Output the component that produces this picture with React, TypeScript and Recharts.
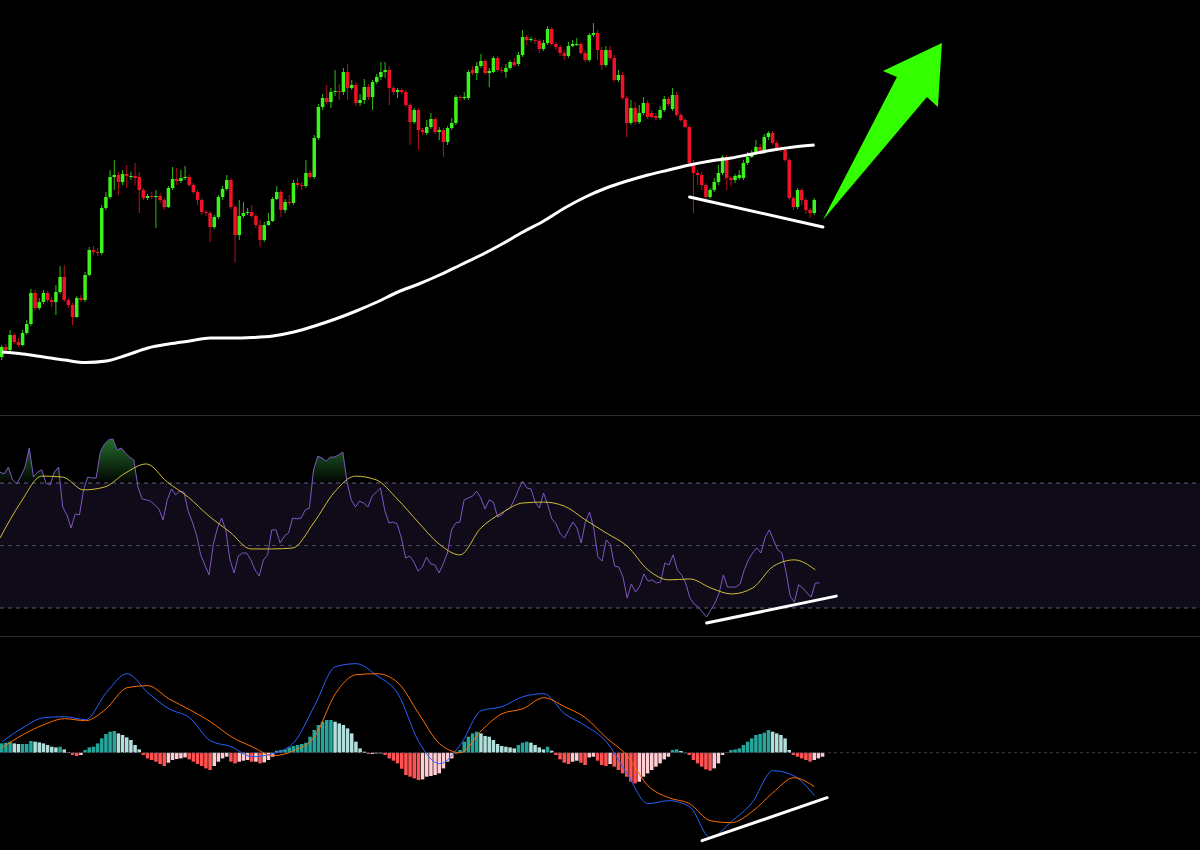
import {
  Area,
  Bar,
  ComposedChart,
  Line,
  ReferenceArea,
  ReferenceDot,
  ReferenceLine,
  XAxis,
  YAxis
} from "recharts";

// price candles (one per bar)
const opens = [
  58, 68, 65, 80, 73, 70, 82, 91, 122, 107,
  113, 122, 115, 113, 123, 138, 115, 110, 98, 117,
  115, 140, 165, 163, 162, 207, 218, 238, 240, 233,
  241, 238, 239, 238, 225, 217, 219, 218, 219, 215,
  208, 227, 236, 234, 237, 238, 230, 223, 215, 203,
  202, 188, 198, 218, 226, 235, 208, 180, 199, 202,
  203, 199, 190, 175, 190, 194, 216, 223, 205, 213,
  212, 232, 230, 229, 242, 238, 277, 308, 317, 313,
  323, 324, 323, 343, 327, 330, 312, 315, 328, 318,
  333, 338, 343, 345, 327, 323, 325, 323, 310, 293,
  305, 285, 282, 288, 296, 283, 285, 273, 287, 292,
  318, 317, 317, 345, 342, 349, 354, 342, 343, 357,
  345, 343, 347, 353, 351, 360, 378, 375, 375, 374,
  366, 372, 386, 371, 368, 362, 359, 369, 370, 371,
  362, 355, 380, 382, 365, 350, 365, 357, 335, 340,
  317, 292, 307, 293, 302, 312, 302, 299, 297, 305,
  316, 306, 320, 300, 295, 288, 252, 242, 240, 230,
  218, 225, 233, 242, 258, 237, 235, 237, 237, 252,
  258, 262, 268, 263, 278, 282, 272, 267, 265, 255,
  217, 208, 225, 215, 205, 202
];
const closes = [
  68, 65, 80, 73, 70, 82, 91, 122, 107, 113,
  122, 115, 113, 123, 138, 115, 110, 98, 117, 115,
  140, 165, 163, 162, 207, 218, 238, 240, 233, 241,
  239, 239, 237, 225, 217, 219, 218, 219, 215, 208,
  227, 236, 234, 237, 238, 230, 223, 215, 203, 202,
  188, 198, 218, 226, 235, 208, 180, 199, 202, 203,
  199, 190, 175, 190, 194, 216, 223, 205, 213, 212,
  232, 230, 229, 242, 238, 277, 308, 317, 313, 323,
  324, 323, 343, 327, 330, 312, 315, 328, 318, 333,
  338, 343, 345, 327, 323, 325, 323, 310, 293, 305,
  285, 283, 288, 296, 283, 285, 273, 287, 292, 318,
  317, 318, 343, 342, 349, 354, 342, 344, 357, 345,
  344, 347, 353, 350, 360, 378, 375, 376, 374, 366,
  372, 386, 371, 368, 362, 359, 369, 371, 371, 362,
  355, 380, 382, 365, 350, 365, 357, 335, 340, 317,
  292, 307, 293, 302, 312, 298, 298, 297, 305, 316,
  311, 320, 300, 295, 288, 252, 242, 240, 230, 218,
  225, 233, 242, 258, 237, 235, 239, 240, 252, 258,
  262, 268, 263, 278, 282, 272, 267, 265, 255, 217,
  208, 225, 215, 205, 202, 215
];
const highs = [
  70, 71, 85, 82, 77, 85, 95, 126, 125, 117,
  125, 124, 118, 130, 149, 150, 117, 112, 119, 120,
  143, 168, 169, 167, 210, 223, 245, 255, 243, 245,
  250, 243, 252, 243, 227, 221, 223, 225, 222, 217,
  229, 248, 247, 245, 249, 240, 232, 225, 217, 205,
  204, 200, 220, 229, 240, 237, 210, 215, 213, 207,
  210, 201, 195, 193, 202, 218, 229, 225, 216, 220,
  235, 237, 233, 255, 245, 280, 311, 321, 330, 327,
  345, 331, 347, 351, 335, 333, 321, 336, 331, 335,
  341, 353, 353, 349, 329, 327, 327, 325, 312, 307,
  307, 287, 295, 302, 298, 288, 287, 289, 297, 320,
  320, 323, 345, 349, 353, 361, 356, 347, 359, 359,
  348, 351, 355, 357, 363, 385, 380, 378, 377, 376,
  375, 389, 388, 373, 370, 365, 373, 375, 377, 373,
  365, 382, 392, 385, 368, 369, 369, 360, 345, 343,
  319, 315, 313, 310, 318, 315, 305, 302, 309, 319,
  318, 327, 323, 302, 297, 290, 255, 245, 243, 232,
  227, 237, 250, 260, 260, 239, 241, 245, 255, 263,
  265, 275, 271, 281, 284, 284, 274, 269, 267, 257,
  219, 227, 227, 217, 207, 217
];
const lows = [
  55, 63, 63, 71, 68, 69, 80, 89, 104, 105,
  111, 113, 108, 100, 121, 113, 107, 90, 97, 113,
  113, 139, 160, 159, 160, 205, 216, 225, 220, 230,
  227, 235, 230, 202, 215, 215, 216, 187, 212, 205,
  207, 225, 230, 232, 235, 228, 221, 210, 200, 199,
  173, 186, 196, 215, 224, 206, 152, 175, 197, 200,
  197, 187, 168, 173, 189, 193, 215, 198, 202, 209,
  210, 227, 225, 227, 236, 236, 275, 305, 311, 307,
  319, 315, 320, 315, 325, 309, 309, 311, 315, 305,
  331, 335, 337, 310, 320, 317, 321, 308, 270, 291,
  265, 280, 280, 286, 281, 275, 258, 270, 285, 290,
  314, 315, 315, 340, 335, 347, 340, 328, 342, 343,
  342, 337, 345, 348, 349, 358, 370, 373, 371, 362,
  364, 370, 369, 365, 359, 355, 357, 368, 369, 360,
  353, 353, 378, 355, 345, 348, 355, 333, 333, 315,
  278, 290, 290, 291, 300, 296, 297, 295, 295, 303,
  309, 304, 298, 293, 287, 250, 202, 230, 225, 215,
  216, 223, 230, 240, 225, 229, 232, 235, 235, 250,
  257, 260, 261, 261, 275, 270, 265, 263, 253, 215,
  205, 206, 210, 201, 197, 200
];

// moving average, read every 5th bar
const smaEvery5 = [
  63, 61, 58, 55, 52.5, 54, 60, 67, 71, 74,
  77, 77, 77.5, 79, 83, 89, 96, 104, 113, 123,
  131, 140, 150, 160, 171, 183, 194, 207, 218, 227,
  234, 240, 245, 250, 254, 257, 261, 265, 268, 270
];

const rsiValues = [
  73.5, 72.9, 75.1, 71.0, 69.7, 72.2, 75.1, 81.2, 71.9, 73.5,
  74.2, 70.0, 69.4, 73.5, 75.1, 62.3, 59.8, 55.6, 60.1, 59.8,
  67.8, 71.9, 71.6, 71.6, 79.9, 82.5, 83.8, 84.1, 80.6, 81.2,
  79.6, 78.3, 77.4, 68.7, 64.9, 64.6, 64.2, 63.0, 61.7, 58.2,
  64.6, 68.1, 66.2, 67.4, 67.1, 61.0, 57.5, 53.4, 47.0, 43.8,
  40.6, 50.2, 55.6, 58.8, 55.0, 45.4, 41.2, 46.6, 47.6, 47.6,
  45.4, 42.2, 40.2, 45.4, 47.0, 55.0, 55.0, 50.8, 53.0, 54.0,
  58.8, 58.5, 58.8, 61.4, 62.0, 74.2, 78.6, 78.0, 77.0, 78.3,
  78.3, 79.0, 79.9, 70.3, 64.6, 62.3, 64.2, 63.6, 62.3, 65.8,
  67.1, 68.4, 61.4, 57.2, 57.5, 56.9, 52.4, 46.0, 46.6, 44.7,
  41.8, 43.1, 46.3, 44.1, 43.8, 41.2, 44.1, 47.6, 55.0, 57.2,
  57.5, 64.6, 65.2, 65.8, 67.4, 65.2, 61.7, 64.6, 63.9, 59.1,
  59.8, 61.4, 62.0, 64.6, 67.8, 70.6, 68.4, 68.1, 63.9, 62.0,
  66.8, 63.0, 58.5, 56.9, 53.7, 52.4, 55.0, 57.5, 55.6, 50.8,
  57.5, 60.7, 55.6, 46.3, 45.0, 51.8, 50.2, 43.4, 43.1, 39.9,
  33.2, 37.7, 35.1, 37.0, 40.9, 38.6, 39.0, 38.0, 38.3, 44.4,
  43.8, 47.0, 42.2, 40.6, 38.0, 33.2, 31.3, 30.3, 28.7, 27.1,
  29.4, 31.6, 34.8, 40.6, 36.7, 36.7, 36.7, 37.7, 42.2, 45.4,
  47.6, 49.2, 47.6, 52.7, 55.0, 51.8, 48.6, 47.6, 41.5, 33.8,
  31.9, 37.4, 36.4, 34.8, 33.5, 38.0, 38.0
];
const rsiMaEvery5 = [
  52.4, 63.9, 72.2, 71.9, 67.8, 68.7, 73.2, 76.1, 70.3, 65.5,
  59.4, 54.3, 48.9, 48.9, 49.2, 57.2, 67.1, 72.2, 71.0, 64.9,
  57.5, 50.5, 47.0, 55.6, 60.4, 63.6, 63.9, 62.6, 58.2, 54.0,
  49.8, 42.2, 39.0, 39.3, 36.4, 34.5, 36.4, 43.4, 45.4, 42.2
];

const macdEvery5 = [
  1.1, 2.5, 3.5, 3.6, 3.3, 6.0, 7.9, 6.0, 4.4, 3.5,
  1.2, 0.6, -0.4, -0.1, 1.0, 4.7, 8.6, 8.9, 7.7, 5.9,
  1.1, -1.1, 0.8, 4.2, 4.6, 5.6, 5.9, 3.9, 2.7, 1.1,
  -2.1, -5.1, -4.8, -5.4, -8.5, -6.9, -5.0, -1.8, -2.3, -4.3
];
const signalEvery5 = [
  0.5, 1.8, 2.8, 3.4, 3.2, 4.4, 6.5, 6.7, 5.4, 4.3,
  3.1, 1.6, 0.6, -0.3, 0.2, 1.6, 5.9, 7.8, 7.9, 7.0,
  3.9, 0.9, 0.0, 2.2, 3.9, 4.4, 5.5, 4.6, 3.5, 1.5,
  -0.3, -3.3, -4.5, -5.1, -6.8, -7.0, -5.9, -4.0, -2.5, -3.4
];
const histValues = [
  0.93, 1.0, 1.1, 0.93, 0.87, 0.87, 0.87, 1.17, 1.1, 1.03,
  0.93, 0.77, 0.6, 0.53, 0.6, 0.33, 0.07, -0.23, -0.33, -0.23,
  0.27, 0.53, 0.6, 0.93, 1.43, 1.87, 2.1, 2.17, 1.93, 1.77,
  1.53, 1.27, 0.77, 0.33, -0.23, -0.57, -0.73, -0.9, -1.13, -1.33,
  -1.0, -0.73, -0.63, -0.57, -0.47, -0.67, -0.9, -1.13, -1.33, -1.57,
  -1.73, -1.33, -0.9, -0.57, -0.4, -0.9, -1.07, -0.9, -0.8, -0.73,
  -0.9, -0.9, -1.07, -0.97, -0.73, -0.4, 0.2, 0.27, 0.33, 0.53,
  0.67, 0.77, 0.87, 1.0, 1.6, 2.27, 2.77, 3.1, 3.27, 3.27,
  3.1, 2.93, 2.77, 2.43, 1.93, 1.1, 0.43, 0.1, -0.13, -0.13,
  -0.07, -0.07, -0.23, -0.57, -0.8, -1.07, -1.6, -2.23, -2.4, -2.57,
  -2.73, -2.67, -2.4, -2.33, -2.23, -2.07, -1.57, -0.9, -0.57, -0.07,
  0.27, 1.1, 1.6, 1.93, 2.1, 1.93, 1.67, 1.6, 1.27, 0.87,
  0.67, 0.6, 0.53, 0.43, 0.77, 1.0, 1.1, 1.0, 0.77, 0.53,
  0.33, 0.6, 0.2, -0.23, -0.67, -1.0, -1.13, -0.9, -0.8, -1.0,
  -1.23, -0.47, -0.4, -0.8, -1.23, -1.33, -1.13, -1.4, -1.73, -2.07,
  -2.4, -2.9, -3.07, -2.9, -2.4, -2.07, -1.73, -1.4, -1.07, -0.67,
  -0.4, 0.27, 0.33, 0.17, 0.0, -0.23, -0.73, -1.07, -1.4, -1.67,
  -1.8, -1.57, -1.07, -0.23, 0.03, 0.27, 0.33, 0.43, 0.77, 1.1,
  1.43, 1.77, 1.87, 2.0, 2.27, 2.1, 1.93, 1.77, 1.43, 0.27,
  -0.23, -0.4, -0.57, -0.73, -0.9, -0.73, -0.57, -0.4
];

// hand-drawn annotations (bar index, value)
const priceTrend = [{ i: 165, v: 218 }, { i: 197, v: 188 }];
const rsiTrend = [{ i: 169, v: 25.2 }, { i: 200, v: 33.8 }];
const macdTrend = [{ i: 168, v: -8.8 }, { i: 198, v: -4.5 }];
const arrowAnchor = { i: 197, v: 195 };

const SLOTS = 288;
const UP = "#3cf21c";
const DOWN = "#ef1228";
const UP_WICK = "#2fbd18";
const DOWN_WICK = "#b8101f";

function histColor(v: number, prev: number) {
  if (v >= 0) return v >= prev ? "#26a69a" : "#b2dfdb";
  return v < prev ? "#ff5252" : "#ffcdd2";
}

const pick = (list: { i: number; v: number }[], i: number) =>
  list.find((p) => p.i === i)?.v;

const rows = Array.from({ length: SLOTS }, (_, i) => {
  const k = i % 5 === 0 ? i / 5 : -1;
  const h = histValues[i];
  return {
    i,
    open: opens[i],
    high: highs[i],
    low: lows[i],
    close: closes[i],
    sma: k >= 0 ? smaEvery5[k] : undefined,
    rsi: rsiValues[i],
    rsiMa: k >= 0 ? rsiMaEvery5[k] : undefined,
    macd: k >= 0 ? macdEvery5[k] : undefined,
    signal: k >= 0 ? signalEvery5[k] : undefined,
    hist: h,
    histFill: h === undefined ? undefined : histColor(h, i > 0 ? histValues[i - 1] : h),
    priceTrend: pick(priceTrend, i),
    rsiTrend: pick(rsiTrend, i),
    macdTrend: pick(macdTrend, i)
  };
});

type Row = (typeof rows)[number];

function Candle(props: any) {
  const { x, y, width, height, payload } = props;
  if (payload.open === undefined || !Number.isFinite(y)) return null;
  const { open, close, high, low } = payload as Row;
  const top = Math.min(y, y + height);
  const h = Math.abs(height);
  const k = high === low ? 0 : h / (high - low);
  const bodyTop = top + (high - Math.max(open, close)) * k;
  const bodyBot = top + (high - Math.min(open, close)) * k;
  const up = close >= open;
  const cx = x + width / 2;
  return (
    <g>
      <line x1={cx} x2={cx} y1={top} y2={top + h} stroke={up ? UP_WICK : DOWN_WICK} strokeWidth={1} />
      <rect x={x} y={bodyTop} width={width} height={Math.max(1, bodyBot - bodyTop)} fill={up ? UP : DOWN} />
    </g>
  );
}

function HistBar(props: any) {
  const { x, y, width, height, payload } = props;
  if (payload.hist === undefined || !Number.isFinite(y)) return null;
  return (
    <rect
      x={x}
      y={Math.min(y, y + height)}
      width={width}
      height={Math.max(0.5, Math.abs(height))}
      fill={payload.histFill}
    />
  );
}

function Arrow(props: any) {
  const { cx, cy } = props;
  const pts = [[0, 0], [74, -143], [60, -149], [119, -177], [115, -113], [104, -123]];
  return <polygon points={pts.map(([dx, dy]) => `${cx + dx},${cy + dy}`).join(" ")} fill="#33ff00" />;
}

const noMargin = { top: 0, right: 0, bottom: 0, left: 0 };

export default function App() {
  return (
    <div style={{ position: "absolute", left: 0, top: 0, width: 1200, height: 850, background: "#000", overflow: "hidden" }}>
      <div style={{ position: "absolute", left: 0, top: 0 }}>
        <ComposedChart width={1200} height={415} data={rows} margin={noMargin}>
          <XAxis dataKey="i" hide />
          <YAxis hide domain={[0, 415]} allowDataOverflow />
          <Bar
            dataKey={(r: Row) => (r.open === undefined ? undefined : [r.low, r.high])}
            barSize={3.5}
            shape={(p: any) => <Candle {...p} />}
            isAnimationActive={false}
          />
          <Line dataKey="sma" type="monotone" stroke="#ffffff" strokeWidth={3} dot={false} activeDot={false} connectNulls isAnimationActive={false} />
          <Line dataKey="priceTrend" type="linear" stroke="#ffffff" strokeWidth={3} strokeLinecap="round" dot={false} activeDot={false} connectNulls isAnimationActive={false} />
          <ReferenceDot x={arrowAnchor.i} y={arrowAnchor.v} r={0} shape={(p: any) => <Arrow {...p} />} />
        </ComposedChart>
      </div>
      <div style={{ position: "absolute", left: 0, top: 415, width: 1200, height: 1, background: "#2b2b36" }} />
      <div style={{ position: "absolute", left: 0, top: 416 }}>
        <ComposedChart width={1200} height={220} data={rows} margin={noMargin}>
          <defs>
            <linearGradient id="rsiGlow" x1="0" y1="0" x2="0" y2="1">
              <stop offset="0%" stopColor="#2f8f3a" stopOpacity={0.75} />
              <stop offset="100%" stopColor="#2f8f3a" stopOpacity={0.03} />
            </linearGradient>
          </defs>
          <XAxis dataKey="i" hide />
          <YAxis hide domain={[21.04, 91.44]} allowDataOverflow />
          <ReferenceArea y1={30} y2={70} fill="#7e57c2" fillOpacity={0.12} stroke="none" />
          <ReferenceLine y={70} stroke="#625e7c" strokeDasharray="4 4" />
          <ReferenceLine y={50} stroke="#4e4a66" strokeDasharray="4 4" />
          <ReferenceLine y={30} stroke="#625e7c" strokeDasharray="4 4" />
          <Area
            dataKey={(r: Row) => (r.rsi === undefined ? undefined : [70, Math.max(70, r.rsi)])}
            type="linear"
            stroke="none"
            fill="url(#rsiGlow)"
            fillOpacity={1}
            activeDot={false}
            isAnimationActive={false}
          />
          <Line dataKey="rsi" type="linear" stroke="#7e57c2" strokeWidth={1} dot={false} activeDot={false} isAnimationActive={false} />
          <Line dataKey="rsiMa" type="monotone" stroke="#d2bd38" strokeWidth={1} dot={false} activeDot={false} connectNulls isAnimationActive={false} />
          <Line dataKey="rsiTrend" type="linear" stroke="#ffffff" strokeWidth={3} strokeLinecap="round" dot={false} activeDot={false} connectNulls isAnimationActive={false} />
        </ComposedChart>
      </div>
      <div style={{ position: "absolute", left: 0, top: 636, width: 1200, height: 1, background: "#2b2b36" }} />
      <div style={{ position: "absolute", left: 0, top: 637 }}>
        <ComposedChart width={1200} height={213} data={rows} margin={noMargin}>
          <XAxis dataKey="i" hide />
          <YAxis hide domain={[-9.73, 11.57]} allowDataOverflow />
          <ReferenceLine y={0} stroke="#3a3a46" strokeDasharray="3 3" />
          <Bar dataKey="hist" barSize={3.5} shape={(p: any) => <HistBar {...p} />} isAnimationActive={false} />
          <Line dataKey="macd" type="monotone" stroke="#2962ff" strokeWidth={1} dot={false} activeDot={false} connectNulls isAnimationActive={false} />
          <Line dataKey="signal" type="monotone" stroke="#ff6d00" strokeWidth={1} dot={false} activeDot={false} connectNulls isAnimationActive={false} />
          <Line dataKey="macdTrend" type="linear" stroke="#ffffff" strokeWidth={3} strokeLinecap="round" dot={false} activeDot={false} connectNulls isAnimationActive={false} />
        </ComposedChart>
      </div>
    </div>
  );
}
